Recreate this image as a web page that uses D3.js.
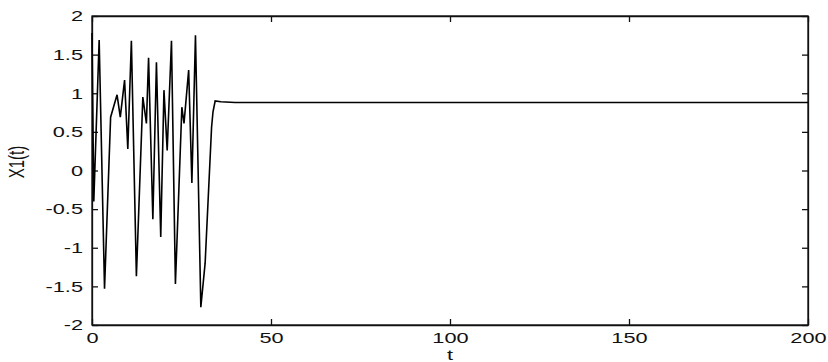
<!DOCTYPE html>
<html>
<head>
<meta charset="utf-8">
<script src="https://cdn.jsdelivr.net/npm/d3@7"></script>
<style>
    body { margin: 0; background: #fff; }
    text { font-family: "Liberation Sans", Arial, sans-serif; font-size: 15px; fill: #111; }
</style>
</head>
<body>
<div id="chart"></div>
<script>
    var tValues = [0, 0.5, 2, 3.5, 5.2, 7, 7.9, 9.1, 10, 11, 12.4, 14.2, 15.2, 15.8, 17, 18, 19.2, 20.1, 21, 22.2,
        23.3, 25.1, 25.7, 27, 27.9, 28.9, 30.4, 31.6, 33.4, 33.8, 34.4, 36, 40, 200];
    var x1Values = [1.78, -0.4, 1.69, -1.53, 0.69, 0.98, 0.69, 1.17, 0.28, 1.68, -1.37, 0.95, 0.61, 1.46, -0.63, 1.40,
        -0.86, 1.04, 0.26, 1.68, -1.47, 0.82, 0.61, 1.30, -0.16, 1.75, -1.77, -1.2, 0.56, 0.76, 0.9, 0.89, 0.88, 0.88];
    var xTicks = [0, 50, 100, 150, 200];
    var yTicks = [-2, -1.5, -1, -0.5, 0, 0.5, 1, 1.5, 2];

    (function() {
    var width = 828,
        height = 362,
        plotLeft = 92, plotTop = 16, plotRight = 808, plotBottom = 325,
        stretch = 1.45;

    var svg = d3.select("#chart")
        .append("svg")
        .attr("width", width)
        .attr("height", height)

    var x = d3.scaleLinear().domain([0, 200]).range([plotLeft, plotRight])
    var y = d3.scaleLinear().domain([-2, 2]).range([plotBottom, plotTop])

    var data = tValues.map(function(t, i) { return {t: t, v: x1Values[i]} })

    // axes, ticks pointing inward like matlab
    var gBottom = svg.append("g")
        .attr("transform", "translate(0," + plotBottom + ")")
        .call(d3.axisBottom(x).tickValues(xTicks).tickSize(-6).tickSizeOuter(0).tickFormat(d3.format("d")))
    gBottom.selectAll("text")
        .attr("y", 18).attr("dy", null)
        .attr("transform", "scale(" + stretch + ",1)")

    var gLeft = svg.append("g")
        .attr("transform", "translate(" + plotLeft + ",0)")
        .call(d3.axisLeft(y).tickValues(yTicks).tickSize(-6).tickSizeOuter(0).tickFormat(function(d) { return String(d) }))
    gLeft.selectAll("text")
        .attr("x", -9 / stretch)
        .attr("transform", "scale(" + stretch + ",1)")

    svg.append("g")
        .attr("transform", "translate(0," + plotTop + ")")
        .call(d3.axisTop(x).tickValues(xTicks).tickSize(-6).tickSizeOuter(0).tickFormat(""))
    svg.append("g")
        .attr("transform", "translate(" + plotRight + ",0)")
        .call(d3.axisRight(y).tickValues(yTicks).tickSize(-6).tickSizeOuter(0).tickFormat(""))

    svg.selectAll(".domain, .tick line")
        .attr("stroke", "#111")
        .attr("stroke-width", 1.3)
    svg.selectAll(".tick text").style("font-size", "15px").attr("fill", "#111")

    svg.append("rect")
        .attr("x", plotLeft).attr("y", plotTop)
        .attr("width", plotRight - plotLeft).attr("height", plotBottom - plotTop)
        .attr("fill", "none")
        .attr("stroke", "#111")
        .attr("stroke-width", 1.3)

    var line = d3.line()
        .x(function(d) { return x(d.t) })
        .y(function(d) { return y(d.v) })

    svg.append("path")
        .datum(data)
        .attr("d", line)
        .attr("fill", "none")
        .attr("stroke", "#000")
        .attr("stroke-width", 1.6)
        .attr("stroke-linejoin", "miter")

    svg.append("text")
        .attr("text-anchor", "middle")
        .attr("transform", "translate(" + (plotLeft + plotRight) / 2 + ",360) scale(" + stretch + ",1)")
        .text("t")

    svg.append("text")
        .attr("text-anchor", "middle")
        .attr("transform", "translate(24,162) rotate(-90) scale(1," + stretch + ")")
        .text("X1(t)")
    })();
</script>
</body>
</html>
